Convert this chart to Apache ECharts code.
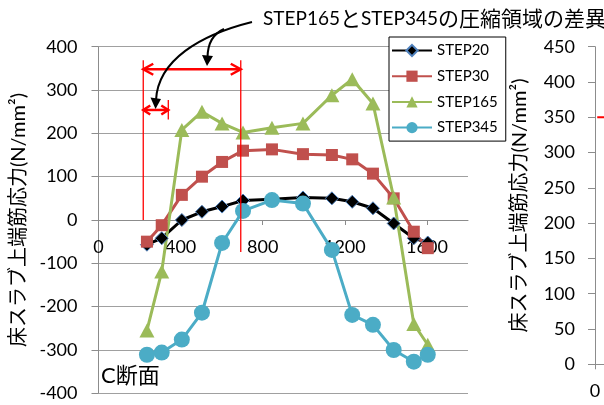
<!DOCTYPE html>
<html><head><meta charset="utf-8">
<script src="https://cdn.jsdelivr.net/npm/echarts@6/dist/echarts.min.js"></script>
<style>html,body{margin:0;padding:0;background:#fff}#c{width:604px;height:405px}</style>
</head><body><div id="c"></div>
<script>
// ---- data ----
const xPositions = [236, 308, 406, 504, 602, 704, 845, 996, 1137, 1236, 1337, 1438, 1536, 1604];
const step20  = [-57, -42, 0, 19, 31, 45, 48, 52, 50, 42, 27, -8, -42, -52];
const step30  = [-50, -12, 58, 100, 134, 160, 163, 152, 150, 140, 107, 50, -27, -65];
const step165 = [-255, -119, 208, 250, 223, 202, 213, 223, 288, 325, 269, 52, -240, -288];
const step345 = [-311, -306, -276, -214, -53, 21, 46, 38, -69, -219, -242, -300, -327, -311];
const seriesNames = ['STEP20', 'STEP30', 'STEP165', 'STEP345'];
// axis ranges / ticks
const xMin = 0, xMax = 1800, xStep = 400;
const yMin = -400, yMax = 400, yStep = 100;
const y2Min = 0, y2Max = 450, y2Step = 50;
// right (partial) chart reference line
const rightRefX = [10, 1800];
const rightRefY = [350, 350];
// annotation (data units)
const annoLeftX = 218, annoRightX = 693, annoSmallX = 340;
const annoTopY = 369, annoArrowY = 348, annoSmallArrowY = 254;
const annoLeftBottom = 0, annoRightBottom = -74, annoSmallTop = 277, annoSmallBottom = 232;

const titleText = '{l|STEP165}{c|と}{l|STEP345}{c|の圧縮領域の差異}';
const yName = '床スラブ上端筋応力(N/mm²)';
const sectionLabel = 'C断面';

const pairs = arr => xPositions.map((x, i) => [x, arr[i]]);
const num = 'Lato';
const cjk = '"Noto Sans CJK JP"';
const gridColor = '#a0a0a0';
const axisColor = '#8c8c8c';
const plain = v => String(v);

const gridTop = 46.7, gridH = 346.6;
const zeroOffset = -gridH * (0 - yMin) / (yMax - yMin);

const chart = echarts.init(document.getElementById('c'), null, {renderer: 'canvas'});
const nameStyle = {fontSize: 20, fontFamily: 'Lato, "Noto Sans CJK JP"', color: '#000'};
const labelStyle = {fontSize: 18, fontFamily: num, color: '#000'};

chart.setOption({
  animation: false,
  backgroundColor: '#fff',
  grid: [
    {left: 98.5, top: gridTop, width: 369.5, height: gridH, outerBoundsMode: 'none', containLabel: false},
    {left: 595, top: 46.7, width: 400, height: 317.6, outerBoundsMode: 'none', containLabel: false}
  ],
  legend: {
    orient: 'vertical', left: 389, top: 37,
    padding: [6, 8, 6, 2], itemGap: 10.7, itemWidth: 40, itemHeight: 14,
    borderColor: '#000', borderWidth: 1, backgroundColor: '#fff',
    textStyle: {fontSize: 15, fontFamily: num, color: '#000'},
    data: seriesNames, z: 10
  },
  xAxis: [
    {gridIndex: 0, type: 'value', min: xMin, max: xMax, interval: xStep, z: 3,
     position: 'bottom', offset: zeroOffset,
     axisLine: {onZero: false, lineStyle: {color: axisColor, width: 1}},
     axisTick: {show: true, length: 5, lineStyle: {color: axisColor}},
     axisLabel: {margin: 18, showMaxLabel: false, formatter: plain, ...labelStyle},
     splitLine: {show: false}},
    {gridIndex: 1, type: 'value', min: xMin, max: xMax, interval: xStep,
     axisLine: {onZero: false, lineStyle: {color: axisColor}},
     axisTick: {length: 5, lineStyle: {color: axisColor}},
     axisLabel: {margin: 18, formatter: plain, ...labelStyle},
     splitLine: {show: false}}
  ],
  yAxis: [
    {gridIndex: 0, type: 'value', min: yMin, max: yMax, interval: yStep,
     axisLine: {show: true, onZero: false, lineStyle: {color: axisColor}},
     axisTick: {show: true, length: 7, lineStyle: {color: axisColor}},
     axisLabel: {margin: 21, formatter: plain, ...labelStyle},
     splitLine: {show: true, lineStyle: {color: gridColor, width: 1}},
     name: yName, nameLocation: 'middle', nameRotate: 90, nameGap: 69,
     nameTextStyle: nameStyle},
    {gridIndex: 1, type: 'value', min: y2Min, max: y2Max, interval: y2Step,
     axisLine: {show: true, onZero: false, lineStyle: {color: axisColor}},
     axisTick: {show: true, length: 7, lineStyle: {color: axisColor}},
     axisLabel: {margin: 20, formatter: plain, ...labelStyle},
     splitLine: {show: false},
     name: yName, nameLocation: 'middle', nameRotate: 90, nameGap: 65,
     nameTextStyle: nameStyle}
  ],
  series: [
    {name: 'STEP20', type: 'line', data: pairs(step20), symbol: 'diamond', symbolSize: 13,
     lineStyle: {color: '#000', width: 3}, itemStyle: {color: '#000', borderColor: '#4F81BD', borderWidth: 1}},
    {name: 'STEP30', type: 'line', data: pairs(step30), symbol: 'rect', symbolSize: 12,
     lineStyle: {color: '#C0504D', width: 3}, itemStyle: {color: '#C0504D'}},
    {name: 'STEP165', type: 'line', data: pairs(step165), symbol: 'triangle', symbolSize: [15, 14],
     lineStyle: {color: '#9BBB59', width: 3}, itemStyle: {color: '#9BBB59'}},
    {name: 'STEP345', type: 'line', data: pairs(step345), symbol: 'circle', symbolSize: 16,
     lineStyle: {color: '#4BACC6', width: 3}, itemStyle: {color: '#4BACC6'}},
    {type: 'line', xAxisIndex: 1, yAxisIndex: 1, data: rightRefX.map((x, i) => [x, rightRefY[i]]),
     symbol: 'none', lineStyle: {color: '#ff0000', width: 2}}
  ]
});

// ---- annotations ----
const P = (x, y) => chart.convertToPixel({gridIndex: 0}, [x, y]);
const red = '#ff0000';
function vline(x, y1, y2, w) {
  const a = P(x, y1), b = P(x, y2);
  return {type: 'line', shape: {x1: a[0], y1: a[1], x2: b[0], y2: b[1]}, style: {stroke: red, lineWidth: w}, z: 20};
}
function dblArrow(x1, x2, y, head, spread) {
  const a = P(x1, y), b = P(x2, y);
  return [
    {type: 'line', shape: {x1: a[0], y1: a[1], x2: b[0], y2: b[1]}, style: {stroke: red, lineWidth: 2.5}, z: 20},
    {type: 'polyline', shape: {points: [[a[0] + head, a[1] - spread], [a[0], a[1]], [a[0] + head, a[1] + spread]]}, style: {stroke: red, lineWidth: 2.5, fill: null}, z: 20},
    {type: 'polyline', shape: {points: [[b[0] - head, b[1] - spread], [b[0], b[1]], [b[0] - head, b[1] + spread]]}, style: {stroke: red, lineWidth: 2.5, fill: null}, z: 20}
  ];
}
const g = [];
g.push(vline(annoLeftX, annoTopY, annoLeftBottom, 1.3));
g.push(vline(annoRightX, annoTopY, annoRightBottom, 1.3));
g.push(vline(annoSmallX, annoSmallTop, annoSmallBottom, 1.3));
g.push(...dblArrow(annoLeftX, annoRightX, annoArrowY, 10, 5.5));
g.push(...dblArrow(annoLeftX, annoSmallX, annoSmallArrowY, 7, 4.5));
// black leader arrows from title
g.push({type: 'bezierCurve', shape: {x1: 252, y1: 22, cpx1: 200, cpy1: 35, cpx2: 158, cpy2: 60, x2: 156, y2: 100},
        style: {stroke: '#000', lineWidth: 2, fill: null}, z: 21});
g.push({type: 'polygon', shape: {points: [[155.5, 109], [150.5, 97.5], [161, 99]]}, style: {fill: '#000'}, z: 21});
g.push({type: 'bezierCurve', shape: {x1: 224, y1: 29, cpx1: 208, cpy1: 36, x2: 207.5, y2: 57}, style: {stroke: '#000', lineWidth: 2, fill: null}, z: 21});
g.push({type: 'polygon', shape: {points: [[207, 66], [202, 55], [213, 56]]}, style: {fill: '#000'}, z: 21});
// title and section label
g.push({type: 'text', left: 263, top: 8, z: 22, style: {text: titleText, fill: '#000',
  rich: {l: {fontFamily: num, fontSize: 19, fill: '#000'}, c: {fontFamily: cjk, fontSize: 21, fill: '#000'}}}});
g.push({type: 'text', left: 101, top: 365, z: 22, style: {text: sectionLabel, fill: '#000', font: '22px Lato, "Noto Sans CJK JP"'}});
chart.setOption({graphic: g});
</script>
</body></html>
